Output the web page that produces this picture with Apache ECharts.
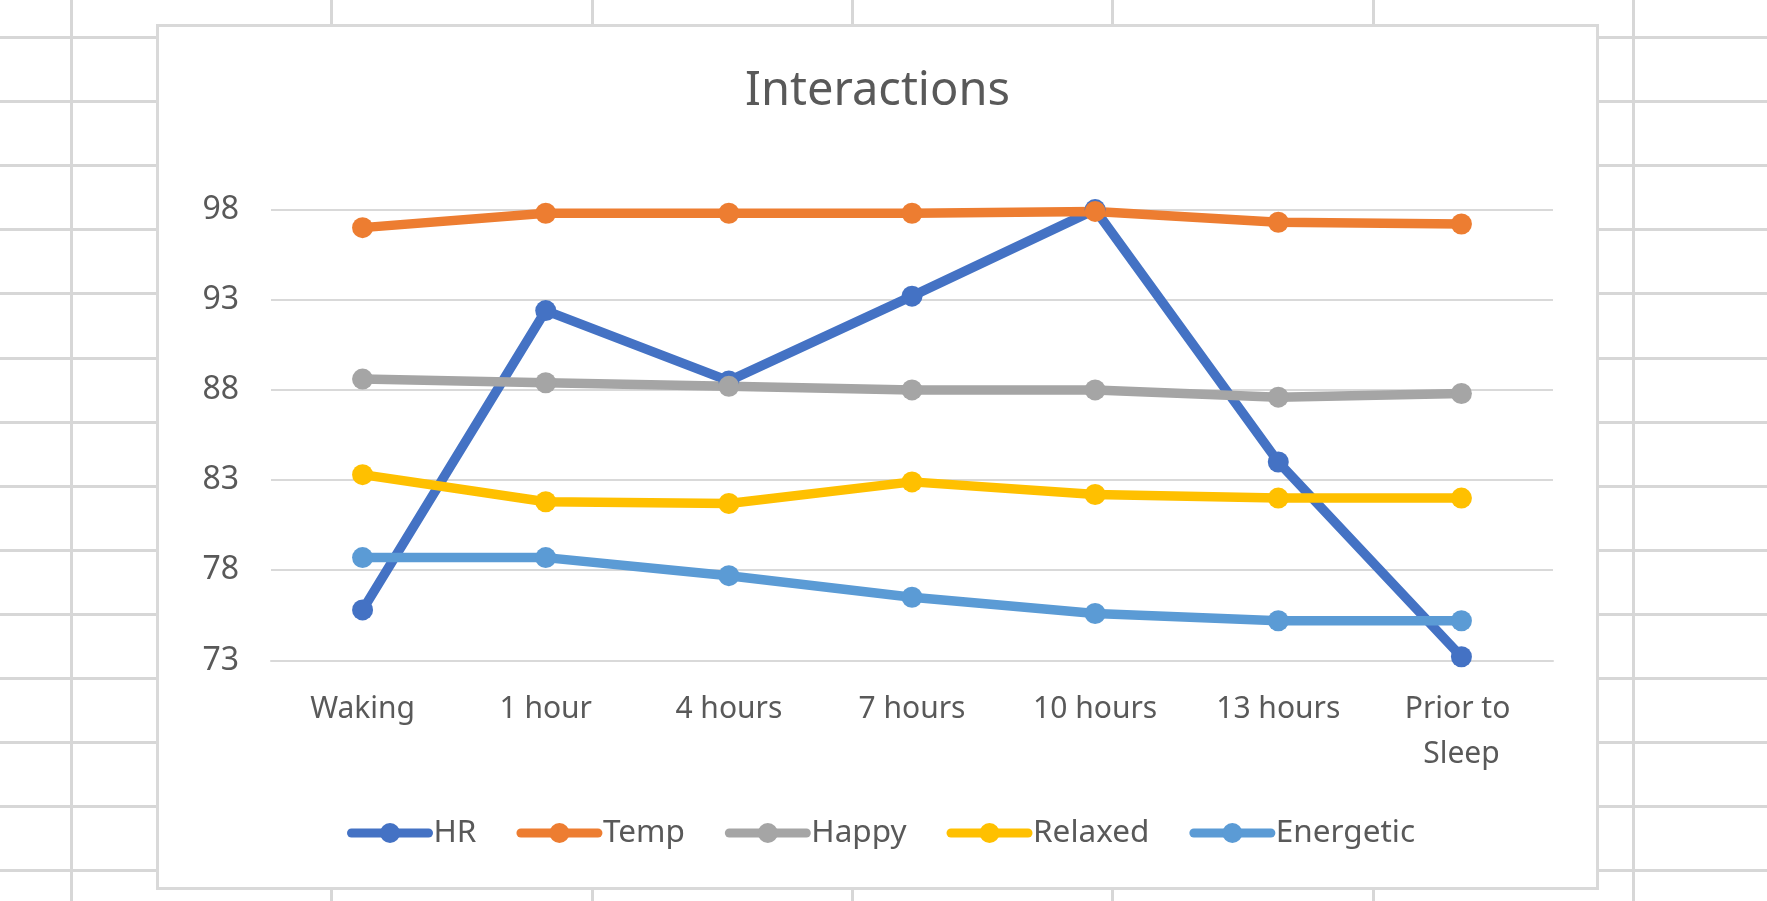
<!DOCTYPE html>
<html>
<head>
<meta charset="utf-8">
<script src="https://cdn.jsdelivr.net/npm/echarts@6/dist/echarts.min.js"></script>
<style>
  html, body { margin: 0; padding: 0; background: #ffffff; }
  #sheet { position: absolute; left: 0; top: 0; width: 1767px; height: 901px; overflow: hidden; }
  .vl { position: absolute; top: 0; width: 3px; height: 901px; background: #d7d7d7; }
  .hl { position: absolute; left: 0; height: 3px; width: 1767px; background: #d7d7d7; }
  #box { position: absolute; left: 156px; top: 24px; width: 1443px; height: 866px;
         box-sizing: border-box; border: 3px solid #d9d9d9; background: #ffffff; }
  #chart { position: absolute; left: 0; top: 0; width: 1767px; height: 901px; }
</style>
</head>
<body>
<div id="sheet"></div>
<div id="box"></div>
<div id="chart"></div>
<script>
// ---- data ----
const categories = ['Waking', '1 hour', '4 hours', '7 hours', '10 hours', '13 hours', 'Prior to Sleep'];
const hrValues        = [75.8, 92.4, 88.5, 93.2, 98.0, 84.0, 73.2];
const tempValues      = [97.0, 97.8, 97.8, 97.8, 97.9, 97.3, 97.2];
const happyValues     = [88.6, 88.4, 88.2, 88.0, 88.0, 87.6, 87.8];
const relaxedValues   = [83.3, 81.8, 81.7, 82.9, 82.2, 82.0, 82.0];
const energeticValues = [78.7, 78.7, 77.7, 76.5, 75.6, 75.2, 75.2];
const seriesNames = ['HR', 'Temp', 'Happy', 'Relaxed', 'Energetic'];
const yTicks = { min: 73, max: 98, step: 5 };

// ---- spreadsheet background (decoration) ----
const sheet = document.getElementById('sheet');
for (let i = 0; i < 7; i++) {
  const d = document.createElement('div');
  d.className = 'vl';
  d.style.left = (70 + i * 260.33) + 'px';
  sheet.appendChild(d);
}
for (let i = 0; i < 14; i++) {
  const d = document.createElement('div');
  d.className = 'hl';
  d.style.top = (36 + i * 64.1) + 'px';
  sheet.appendChild(d);
}

// ---- chart ----
const colors = ['#4472C4', '#ED7D31', '#A5A5A5', '#FFC000', '#5B9BD5'];
const allValues = [hrValues, tempValues, happyValues, relaxedValues, energeticValues];
const textColor = '#595959';
const fontFamily = '"Noto Sans", sans-serif';

const chart = echarts.init(document.getElementById('chart'), null, { renderer: 'canvas' });
chart.setOption({
  animation: false,
  backgroundColor: 'transparent',
  color: colors,
  title: {
    text: 'Interactions',
    left: 877.5,
    top: 68,
    padding: 0,
    textAlign: 'center',
    textStyle: { color: textColor, fontSize: 47, fontWeight: 'normal', fontFamily: fontFamily }
  },
  legend: {
    data: seriesNames,
    left: 347,
    top: 817,
    padding: 0,
    itemWidth: 77,
    itemHeight: 25,
    itemGap: 40,
    lineStyle: { width: 9, cap: 'round' },
    textStyle: { color: textColor, fontSize: 31.5, fontFamily: fontFamily, padding: [0, 0, 0, 0] }
  },
  grid: { left: 271, right: 214, top: 209.6, bottom: 240.6, containLabel: false },
  xAxis: {
    type: 'category',
    data: categories,
    boundaryGap: true,
    axisLine: { show: true, lineStyle: { color: '#d9d9d9', width: 2 } },
    axisTick: { show: false },
    axisLabel: {
      color: textColor, fontSize: 30, fontFamily: fontFamily,
      margin: 27, lineHeight: 45, width: 160, overflow: 'break', interval: 0
    },
    splitLine: { show: false }
  },
  yAxis: {
    type: 'value',
    min: yTicks.min,
    max: yTicks.max,
    interval: yTicks.step,
    axisLine: { show: false },
    axisTick: { show: false },
    axisLabel: { color: textColor, fontSize: 32, fontFamily: fontFamily, margin: 32 },
    splitLine: { show: true, lineStyle: { color: '#d9d9d9', width: 2 } }
  },
  series: seriesNames.map((name, i) => ({
    name: name,
    type: 'line',
    data: allValues[i],
    symbol: 'circle',
    symbolSize: 21,
    clip: false,
    lineStyle: { width: 9.5, color: colors[i], cap: 'round', join: 'round' },
    itemStyle: { color: colors[i] },
    emphasis: { disabled: true }
  }))
});
</script>
</body>
</html>
